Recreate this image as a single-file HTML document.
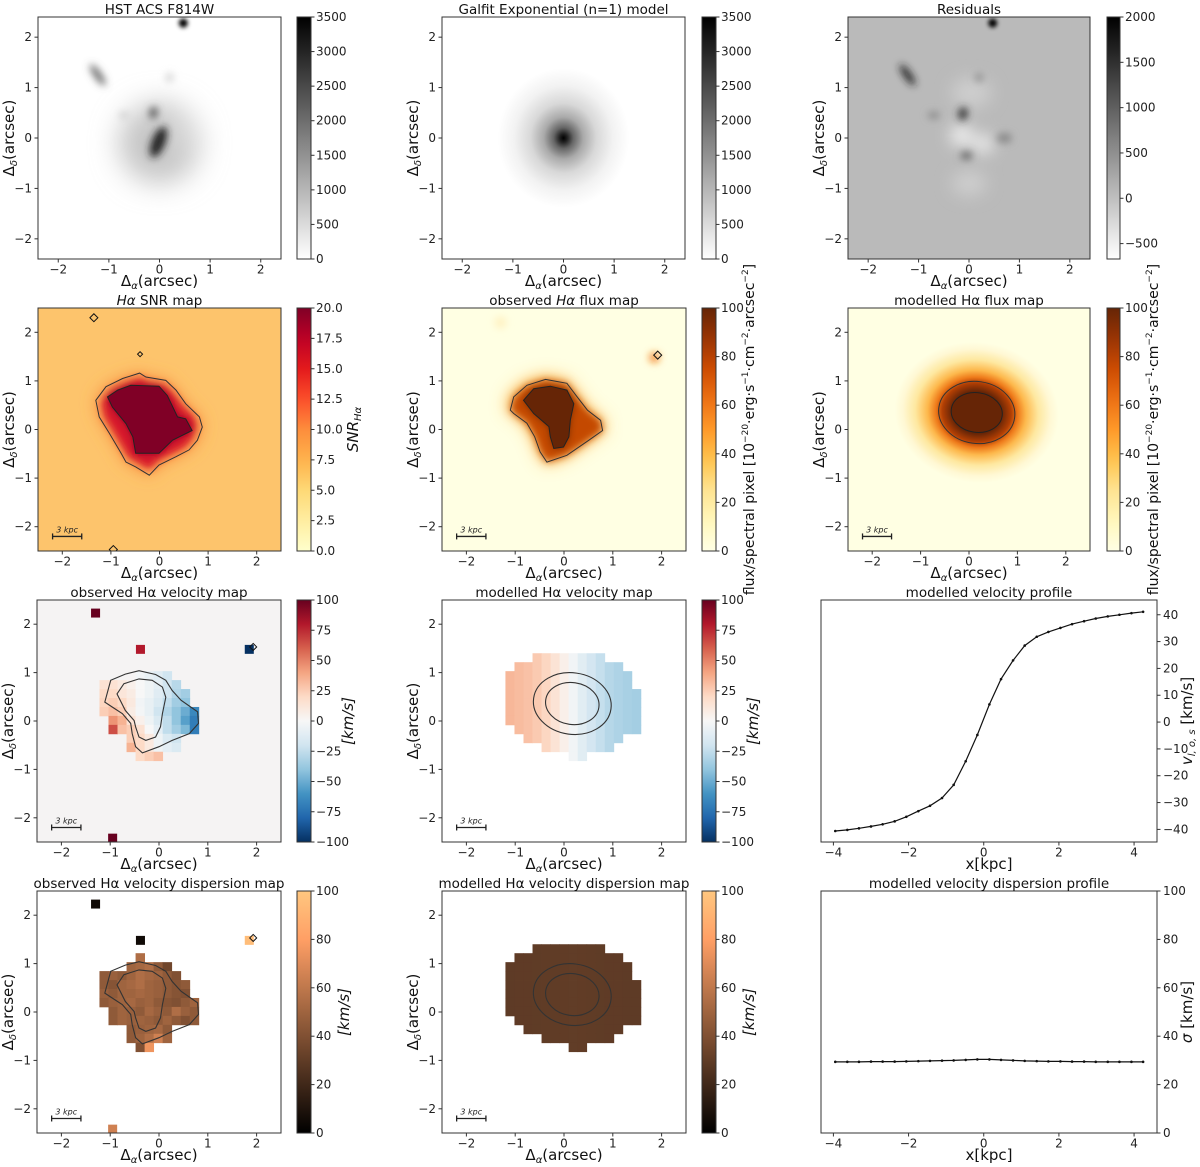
<!DOCTYPE html>
<html><head><meta charset="utf-8"><title>Halpha maps</title>
<style>
html,body{margin:0;padding:0;background:#fff;}
svg{display:block;font-family:"DejaVu Sans","Liberation Sans",sans-serif;}
</style></head>
<body>
<svg id="fig" width="1200" height="1167" viewBox="0 0 1200 1167" xmlns="http://www.w3.org/2000/svg">
<defs>
<filter id="b2" x="-50%" y="-50%" width="200%" height="200%"><feGaussianBlur stdDeviation="2"/></filter>
<filter id="b4" x="-50%" y="-50%" width="200%" height="200%"><feGaussianBlur stdDeviation="4"/></filter>
<filter id="b8" x="-50%" y="-50%" width="200%" height="200%"><feGaussianBlur stdDeviation="8"/></filter>
<filter id="b14" x="-80%" y="-80%" width="260%" height="260%"><feGaussianBlur stdDeviation="14"/></filter>
</defs>
</svg>
<script>
// ---------- chart data ----------
const profX = [-3.95,-3.63,-3.32,-3.00,-2.69,-2.37,-2.06,-1.74,-1.43,-1.11,-0.80,-0.48,-0.17,0.15,0.46,0.78,1.09,1.41,1.72,2.04,2.35,2.67,2.98,3.30,3.61,3.93,4.24];
const vProfile = [-40.6,-40.2,-39.6,-38.9,-38.1,-37.0,-35.3,-33.2,-31.2,-28.3,-23.4,-14.6,-4.8,6.6,16.0,23.0,28.5,31.8,33.6,35.1,36.5,37.6,38.6,39.4,40.0,40.6,41.1];
const sigmaProfile = [29.4,29.4,29.4,29.5,29.5,29.5,29.6,29.7,29.8,29.9,30.0,30.2,30.4,30.4,30.2,30.0,29.8,29.7,29.6,29.6,29.5,29.5,29.4,29.4,29.4,29.4,29.4];
const profXTicks = [-4,-2,0,2,4];
const vTicks = [-40,-30,-20,-10,0,10,20,30,40];
const sigmaTicks = [0,20,40,60,80,100];
const mapTicks1 = [-2,-1,0,1,2];
const n = null;
const velObs = [
[n,n,n,n,n,n,n,n,n,n,n],
[n,n,n,n,-3,-8,-12,-20,n,n,n],
[15,15,10,5,0,-5,-10,-20,-28,n,n],
[20,20,12,8,0,-5,-12,-20,-30,-35,n],
[22,25,20,10,-3,-8,-15,-25,-35,-40,n],
[25,30,25,8,-2,-8,-20,-30,-40,-50,-65],
[n,45,35,15,5,-5,-15,-25,-40,-55,-70],
[n,65,30,25,15,0,-10,-25,-35,-45,-70],
[n,n,n,25,20,10,-5,-15,-20,n,n],
[n,n,n,35,20,10,-5,-10,-15,n,n],
[n,n,n,n,20,25,30,n,n,n,n]];
const dispObs = [
[n,n,n,n,55,n,n,n,n,n,n],
[n,n,n,50,52,55,45,35,n,n,n],
[45,48,45,50,55,52,50,45,40,n,n],
[45,42,50,52,55,50,48,45,42,45,n],
[48,45,50,50,52,50,48,45,42,40,n],
[45,48,50,52,48,50,45,42,40,45,50],
[n,45,50,48,45,52,48,45,55,48,45],
[n,45,50,48,50,48,45,50,45,40,45],
[n,n,n,45,48,50,52,45,n,n,n],
[n,n,n,45,50,55,65,50,n,n,n],
[n,n,n,n,40,75,n,n,n,n,n]];
const isoX = [-1.3,-0.38,1.85,-0.95];
const isoY = [2.23,1.48,1.48,-2.42];
const isoVel = [100,80,-100,100];
const isoDisp = [5,5,95,65];
const modelRowStart = [3,1,0,0,0,0,0,0,1,2,4,7];
const modelRowEnd =   [10,12,13,13,14,14,14,14,14,12,11,8];
// contour shapes (arcsec)
const obsOuterX=[-1.11,-0.99,-0.69,-0.41,-0.07,0.14,0.27,0.45,0.65,0.79,0.81,0.62,0.27,0,-0.34,-0.48,-0.55,-0.58,-0.75,-0.96];
const obsOuterY=[0.39,0.84,0.97,1.04,0.96,0.84,0.63,0.43,0.29,0.19,-0.05,-0.26,-0.40,-0.53,-0.66,-0.53,-0.26,-0.05,0.15,0.29];
const obsInnerX=[-0.86,-0.72,-0.41,-0.14,0.07,0.14,0.07,0.03,-0.07,-0.27,-0.41,-0.48,-0.51,-0.69];
const obsInnerY=[0.56,0.77,0.87,0.84,0.70,0.49,0.15,-0.12,-0.33,-0.40,-0.33,-0.12,0.01,0.22];
const snrInX=[-1.07,-0.86,-0.59,-0.01,0.16,0.37,0.54,0.67,0.27,-0.01,-0.49,-0.55,-0.69,-0.97];
const snrInY=[0.67,0.81,0.91,0.89,0.70,0.26,0.22,-0.02,-0.22,-0.49,-0.49,-0.15,0.12,0.46];
const snrOutX=[-1.31,-1.10,-0.76,-0.41,-0.28,0.13,0.34,0.54,0.82,0.88,0.78,0.61,0.34,-0.01,-0.21,-0.49,-0.69,-0.79,-1.03,-1.24];
const snrOutY=[0.60,0.88,1.05,1.16,1.08,1.01,0.81,0.53,0.26,0.05,-0.22,-0.42,-0.56,-0.73,-0.94,-0.77,-0.67,-0.49,-0.08,0.26];
const fluxInX=[-0.83,-0.62,-0.28,0.06,0.20,0.13,0.10,-0.01,-0.21,-0.28,-0.31,-0.62];
const fluxInY=[0.60,0.84,0.89,0.81,0.53,0.19,-0.15,-0.36,-0.39,-0.15,0.06,0.33];
const fluxOutX=[-1.10,-1.03,-0.76,-0.38,0.06,0.27,0.48,0.75,0.79,0.51,0.06,-0.35,-0.49,-0.60,-0.76,-1.03];
const fluxOutY=[0.40,0.67,0.91,1.03,0.95,0.67,0.40,0.19,-0.02,-0.22,-0.53,-0.67,-0.46,-0.15,0.13,0.33];

// ---------- helpers ----------
const svg=document.getElementById('fig');
const NS='http://www.w3.org/2000/svg';
function mk(tag,attrs,name,parent){
  const e=document.createElementNS(NS,tag);
  for(const k in attrs) e.setAttribute(k,attrs[k]);
  
  
  (parent||svg).appendChild(e);
  return e;
}
function hex2(h){return [parseInt(h.substr(1,2),16),parseInt(h.substr(3,2),16),parseInt(h.substr(5,2),16)];}
function cmapF(stops){const c=stops.map(hex2);return function(t){t=Math.max(0,Math.min(1,t));const f=t*(c.length-1);const i=Math.min(c.length-2,Math.floor(f));const u=f-i;const r=c[i].map((v,k)=>Math.round(v+(c[i+1][k]-v)*u));return 'rgb('+r.join(',')+')';};}
const greys=cmapF(['#ffffff','#000000']);
const ylorrd=cmapF(['#ffffcc','#ffeda0','#fed976','#feb24c','#fd8d3c','#fc4e2a','#e31a1c','#bd0026','#800026']);
const ylorbr=cmapF(['#ffffe5','#fff7bc','#fee391','#fec44f','#fe9929','#ec7014','#cc4c02','#993404','#662506']);
const rdbu=cmapF(['#053061','#2166ac','#4393c3','#92c5de','#d1e5f0','#f7f7f7','#fddbc7','#f4a582','#d6604d','#b2182b','#67001f']);
const copper=function(t){t=Math.max(0,Math.min(1,t));return 'rgb('+Math.round(255*Math.min(1,1.25*t))+','+Math.round(255*0.7812*t)+','+Math.round(255*0.4975*t)+')';};
function minus(s){return String(s).replace('-','\u2212');}
let clipN=0;

function makePanel(o){
  const g=mk('g',{},o.name);
  const sx=x=>o.l+(x-o.x0)/(o.x1-o.x0)*o.w;
  const sy=y=>o.t+(o.y1-y)/(o.y1-o.y0)*o.h;
  const id='clip'+(clipN++);
  const cp=mk('clipPath',{id:id},'clip-region',g);
  mk('rect',{x:o.l,y:o.t,width:o.w,height:o.h},'clip-rect',cp);
  const img=mk('g',{'clip-path':'url(#'+id+')'},'image-area',g);
  mk('rect',{x:o.l,y:o.t,width:o.w,height:o.h,fill:o.bg||'#fff'},'image-background',img);
  return {g,sx,sy,img,o};
}
function drawAxes(P,opts){
  const o=P.o,g=P.g;
  mk('rect',{x:o.l,y:o.t,width:o.w,height:o.h,fill:'none',stroke:'#333','stroke-width':1},'axes-frame',g);
  const tg=mk('g',{'font-size':'12',fill:'#222'},'tick-labels',g);
  o.xt.forEach(v=>{const x=P.sx(v);
    mk('line',{x1:x,x2:x,y1:o.t+o.h,y2:o.t+o.h+3.5,stroke:'#333'},'x-tick',g);
    const t=mk('text',{x:x,y:o.t+o.h+14.5,'text-anchor':'middle'},'x-tick-label',tg);t.textContent=minus(v);});
  o.yt.forEach(v=>{const y=P.sy(v);
    if(opts&&opts.right){
      mk('line',{x1:o.l+o.w,x2:o.l+o.w+3.5,y1:y,y2:y,stroke:'#333'},'y-tick',g);
      const t=mk('text',{x:o.l+o.w+6,y:y+4,'text-anchor':'start'},'y-tick-label',tg);t.textContent=minus(v);
    }else{
      mk('line',{x1:o.l,x2:o.l-3.5,y1:y,y2:y,stroke:'#333'},'y-tick',g);
      const t=mk('text',{x:o.l-6,y:y+4,'text-anchor':'end'},'y-tick-label',tg);t.textContent=minus(v);
    }});
  const tt=mk('text',{x:o.l+o.w/2,y:o.t-3,'text-anchor':'middle','font-size':'13.5',fill:'#111'},'panel-title',g);
  tt.innerHTML=o.title;
  const xl=mk('text',{x:o.l+o.w/2,y:o.t+o.h+27,'text-anchor':'middle','font-size':'15',fill:'#111'},'x-axis-title',g);
  xl.innerHTML=o.xlabel||'Δ<tspan font-size="10" font-style="italic" dy="3">α</tspan><tspan dy="-3">(arcsec)</tspan>';
  if(!(opts&&opts.right)){
    const yl=mk('text',{x:0,y:0,'text-anchor':'middle','font-size':'15',fill:'#111',transform:'translate('+(o.l-24)+','+(o.t+o.h/2)+') rotate(-90)'},'y-axis-title',g);
    yl.innerHTML='Δ<tspan font-size="10" font-style="italic" dy="3">δ</tspan><tspan dy="-3">(arcsec)</tspan>';
  }
}
function colorbar(P,cb){
  const g=mk('g',{},'colorbar',P.g);
  const id='grad'+(clipN++);
  const lg=mk('linearGradient',{id:id,x1:0,y1:1,x2:0,y2:0},'colorbar-gradient',g);
  for(let i=0;i<=20;i++){mk('stop',{offset:(i/20),'stop-color':cb.cm(i/20)},'gradient-stop',lg);}
  const t=P.o.t,h=P.o.h;
  mk('rect',{x:cb.x,y:t,width:cb.w,height:h,fill:'url(#'+id+')',stroke:'#333','stroke-width':1},'colorbar-bar',g);
  cb.ticks.forEach(v=>{const y=t+h-(v-cb.min)/(cb.max-cb.min)*h;
    mk('line',{x1:cb.x+cb.w,x2:cb.x+cb.w+3.5,y1:y,y2:y,stroke:'#333'},'colorbar-tick',g);
    const tx=mk('text',{x:cb.x+cb.w+5,y:y+4,'font-size':'12',fill:'#222'},'colorbar-tick-label',g);
    tx.textContent=minus(cb.fmt?cb.fmt(v):v);});
  if(cb.label){
    const lx=cb.x+cb.w+cb.lo;
    const l=mk('text',{x:0,y:0,'text-anchor':'middle','font-size':cb.fs||'15',fill:'#111',transform:'translate('+lx+','+(t+h/2)+') rotate(-90)'},'colorbar-label',g);
    l.innerHTML=cb.label;
  }
}
function poly(P,xs,ys,attrs,name,parent){
  const pts=xs.map((x,i)=>P.sx(x).toFixed(1)+','+P.sy(ys[i]).toFixed(1)).join(' ');
  return mk('polygon',Object.assign({points:pts},attrs),name,parent||P.img);
}
function ell(P,cx,cy,rx,ry,rot,attrs,name,parent){
  const s=P.o.w/(P.o.x1-P.o.x0);
  return mk('ellipse',Object.assign({cx:P.sx(cx),cy:P.sy(cy),rx:rx*s,ry:ry*s,transform:'rotate('+rot+' '+P.sx(cx)+' '+P.sy(cy)+')'},attrs),name,parent||P.img);
}
function scalebar(P){
  const y=P.sy(-2.2),x1=P.sx(-2.2),x2=P.sx(-1.6);
  const g=mk('g',{stroke:'#222','stroke-width':1.3},'scale-bar',P.img);
  mk('line',{x1:x1,x2:x2,y1:y,y2:y},'scale-bar-line',g);
  mk('line',{x1:x1,x2:x1,y1:y-3,y2:y+3},'scale-bar-cap',g);
  mk('line',{x1:x2,x2:x2,y1:y-3,y2:y+3},'scale-bar-cap',g);
  const t=mk('text',{x:(x1+x2)/2,y:y-4,'text-anchor':'middle','font-size':'8','font-style':'italic',fill:'#222'},'scale-bar-label',P.img);
  t.textContent='3 kpc';
}
function diamond(P,x,y,r,name){
  const cx=P.sx(x),cy=P.sy(y);
  mk('polygon',{points:(cx)+','+(cy-r)+' '+(cx+r)+','+cy+' '+cx+','+(cy+r)+' '+(cx-r)+','+cy,fill:'none',stroke:'#111','stroke-width':1},name||'diamond-marker',P.img);
}
function gridCells(P,grid,x0,y0,cs,cm,min,max,name){
  const g=mk('g',{},name,P.img);
  grid.forEach((row,j)=>row.forEach((v,i)=>{ if(v===null) return;
    const x=P.sx(x0+i*cs),y=P.sy(y0-j*cs);
    mk('rect',{x:x,y:y,width:P.sx(x0+(i+1)*cs)-x+0.4,height:P.sy(y0-(j+1)*cs)-y+0.4,fill:cm((v-min)/(max-min))},'pixel',g);}));
}
function isoCells(P,vals,cs,cm,min,max){
  vals.forEach((v,k)=>{const x=P.sx(isoX[k]-cs/2),y=P.sy(isoY[k]+cs/2);
    mk('rect',{x:x,y:y,width:P.sx(isoX[k]+cs/2)-x,height:P.sy(isoY[k]-cs/2)-y,fill:cm((v-min)/(max-min))},'isolated-pixel',P.img);});
}
function contourLines(P,ox,oy,ix,iy){
  poly(P,ox,oy,{fill:'none',stroke:'#333','stroke-width':1.1},'contour-outer');
  poly(P,ix,iy,{fill:'none',stroke:'#333','stroke-width':1.1},'contour-inner');
}
function modelContours(P){
  ell(P,0.17,0.36,0.8,0.63,8,{fill:'none',stroke:'#333','stroke-width':1.1},'contour-outer');
  ell(P,0.17,0.36,0.55,0.43,8,{fill:'none',stroke:'#333','stroke-width':1.1},'contour-inner');
}
function interp(xs,ys,x){ if(x<=xs[0]) return ys[0]; if(x>=xs[xs.length-1]) return ys[ys.length-1];
  for(let i=0;i<xs.length-1;i++){ if(x<=xs[i+1]){const u=(x-xs[i])/(xs[i+1]-xs[i]);return ys[i]+u*(ys[i+1]-ys[i]);}} }

const map24={x0:-2.4,x1:2.4,y0:-2.4,y1:2.4,xt:mapTicks1,yt:mapTicks1};
const map25={x0:-2.5,x1:2.5,y0:-2.5,y1:2.5,xt:mapTicks1,yt:mapTicks1};

// ---------- Row 1 ----------
(function(){
  const P=makePanel(Object.assign({name:'hst-panel',l:38,t:17,w:243,h:242,title:'HST ACS F814W'},map24));
  const b=mk('g',{filter:'url(#b14)'},'galaxy-halo',P.img);
  ell(P,0,-0.1,0.8,0.8,0,{fill:'#c4c4c4'},'halo',b);
  ell(P,0.35,0.05,0.3,0.25,0,{fill:'#dcdcdc'},'halo-ext',b);
  const c=mk('g',{filter:'url(#b4)'},'galaxy-core',P.img);
  ell(P,-0.02,-0.08,0.13,0.32,22,{fill:'#202020'},'core',c);
  ell(P,-0.12,0.5,0.08,0.12,10,{fill:'#555'},'knot',c);
  ell(P,-1.22,1.25,0.07,0.25,-35,{fill:'#666'},'streak',c);
  ell(P,0.2,1.2,0.08,0.08,0,{fill:'#ccc'},'faint-blob',c);
  ell(P,-0.7,0.45,0.1,0.06,0,{fill:'#ccc'},'faint-blob',c);
  const s=mk('g',{filter:'url(#b2)'},'star',P.img);
  ell(P,0.47,2.28,0.09,0.09,0,{fill:'#000'},'star-core',s);
  drawAxes(P);
  colorbar(P,{x:297,w:14,cm:greys,min:0,max:3500,ticks:[0,500,1000,1500,2000,2500,3000,3500]});
})();
(function(){
  const P=makePanel(Object.assign({name:'galfit-panel',l:442,t:17,w:243,h:242,title:'Galfit Exponential (n=1) model'},map24));
  const rg=mk('radialGradient',{id:'galfitGrad'},'galfit-gradient',P.g);
  [[0,'#000'],[0.06,'#222'],[0.15,'#666'],[0.3,'#aaa'],[0.5,'#d8d8d8'],[0.75,'#f2f2f2'],[1,'#fff']].forEach(s=>mk('stop',{offset:s[0],'stop-color':s[1]},'gradient-stop',rg));
  ell(P,0,0,1.3,1.38,0,{fill:'url(#galfitGrad)'},'galfit-model');
  drawAxes(P);
  colorbar(P,{x:702,w:14,cm:greys,min:0,max:3500,ticks:[0,500,1000,1500,2000,2500,3000,3500]});
})();
(function(){
  const P=makePanel(Object.assign({name:'residuals-panel',l:848,t:17,w:242,h:242,title:'Residuals',bg:'#bababa'},map24));
  const w=mk('g',{filter:'url(#b8)'},'residual-light',P.img);
  ell(P,-0.15,0.05,0.22,0.2,0,{fill:'#f4f4f4'},'negative-residual',w);
  ell(P,0.28,-0.12,0.2,0.18,0,{fill:'#f0f0f0'},'negative-residual',w);
  ell(P,0.05,0.9,0.4,0.3,0,{fill:'#cdcdcd'},'negative-residual',w);
  ell(P,0,-0.9,0.35,0.25,0,{fill:'#cdcdcd'},'negative-residual',w);
  const c=mk('g',{filter:'url(#b4)'},'residual-dark',P.img);
  ell(P,-0.12,0.48,0.09,0.13,10,{fill:'#333'},'knot',c);
  ell(P,-0.05,-0.35,0.12,0.08,0,{fill:'#666'},'knot',c);
  ell(P,0.7,0,0.15,0.1,0,{fill:'#888'},'knot',c);
  ell(P,-0.7,0.45,0.12,0.07,0,{fill:'#888'},'knot',c);
  ell(P,-1.22,1.25,0.07,0.25,-35,{fill:'#222'},'streak',c);
  ell(P,0.2,1.2,0.08,0.08,0,{fill:'#888'},'faint-blob',c);
  const s=mk('g',{filter:'url(#b2)'},'star',P.img);
  ell(P,0.47,2.28,0.09,0.09,0,{fill:'#000'},'star-core',s);
  drawAxes(P);
  colorbar(P,{x:1107,w:13,cm:greys,min:-670,max:2000,ticks:[-500,0,500,1000,1500,2000]});
})();

// ---------- Row 2 ----------
(function(){
  const P=makePanel(Object.assign({name:'snr-panel',l:38,t:308,w:243,h:243,title:'<tspan font-style="italic">Hα</tspan> SNR map',bg:'#fdc46c'},map25));
  const b=mk('g',{filter:'url(#b8)'},'snr-halo',P.img);
  poly(P,snrOutX,snrOutY,{fill:'#f98c3e'},'snr-mid',b);
  const c=mk('g',{filter:'url(#b4)'},'snr-core',P.img);
  poly(P,snrOutX.map(v=>v*0.9-0.02),snrOutY.map(v=>v*0.9+0.02),{fill:'#d7182a'},'snr-high',c);
  poly(P,snrInX,snrInY,{fill:'#800026'},'snr-peak',c);
  poly(P,snrInX,snrInY,{fill:'#800026'},'snr-peak-fill');
  poly(P,snrOutX,snrOutY,{fill:'none',stroke:'#333','stroke-width':1},'contour-10');
  poly(P,snrInX,snrInY,{fill:'none',stroke:'#222','stroke-width':1},'contour-20');
  diamond(P,-1.35,2.3,4);diamond(P,-0.4,1.55,2.5);diamond(P,-0.95,-2.47,4);
  scalebar(P);
  drawAxes(P);
  colorbar(P,{x:297,w:14,cm:ylorrd,min:0,max:20,ticks:[0,2.5,5,7.5,10,12.5,15,17.5,20],fmt:v=>v.toFixed(1),lo:47,label:'<tspan font-style="italic">SNR</tspan><tspan font-size="10" font-style="italic" dy="3">Hα</tspan>'});
})();
const fluxLabel='flux/spectral pixel [10<tspan font-size="9" dy="-6">−20</tspan><tspan dy="6">·erg·s</tspan><tspan font-size="9" dy="-6">−1</tspan><tspan dy="6">·cm</tspan><tspan font-size="9" dy="-6">−2</tspan><tspan dy="6">·arcsec</tspan><tspan font-size="9" dy="-6">−2</tspan><tspan dy="6">]</tspan>';
(function(){
  const P=makePanel(Object.assign({name:'observed-flux-panel',l:442,t:308,w:244,h:243,title:'observed <tspan font-style="italic">Hα</tspan> flux map',bg:'#ffffe3'},map25));
  const b=mk('g',{filter:'url(#b8)'},'flux-halo',P.img);
  poly(P,fluxOutX.map(v=>v*1.08),fluxOutY.map(v=>v*1.08),{fill:'#fdb64a'},'flux-low',b);
  const c=mk('g',{filter:'url(#b4)'},'flux-core',P.img);
  poly(P,fluxOutX,fluxOutY,{fill:'#c44a06'},'flux-mid',c);
  poly(P,fluxInX,fluxInY,{fill:'#662506'},'flux-high',c);
  poly(P,fluxInX,fluxInY,{fill:'#662506'},'flux-high-fill');
  const s=mk('g',{filter:'url(#b4)'},'flux-spots',P.img);
  ell(P,1.85,1.48,0.1,0.1,0,{fill:'#f47a18'},'spot',s);
  ell(P,-1.3,2.2,0.12,0.12,0,{fill:'#fff1c0'},'spot',s);
  poly(P,fluxOutX,fluxOutY,{fill:'none',stroke:'#333','stroke-width':1},'contour-50');
  poly(P,fluxInX,fluxInY,{fill:'none',stroke:'#222','stroke-width':1},'contour-100');
  diamond(P,1.92,1.53,4);
  scalebar(P);
  drawAxes(P);
  colorbar(P,{x:702,w:14,cm:ylorbr,min:0,max:100,ticks:[0,20,40,60,80,100],lo:38,fs:'14',label:fluxLabel});
})();
(function(){
  const P=makePanel(Object.assign({name:'modelled-flux-panel',l:848,t:308,w:242,h:243,title:'modelled Hα flux map',bg:'#ffffe3'},map25));
  const rg=mk('radialGradient',{id:'fluxGrad'},'flux-gradient',P.g);
  [[0,'#662506'],[0.3,'#662506'],[0.42,'#b23f04'],[0.5,'#ee7a1a'],[0.6,'#fdb84c'],[0.75,'#fee8a0'],[0.9,'#fff8d4'],[1,'#ffffe3']].forEach(s=>mk('stop',{offset:s[0],'stop-color':s[1]},'gradient-stop',rg));
  ell(P,0.16,0.35,1.7,1.45,8,{fill:'url(#fluxGrad)'},'flux-model');
  ell(P,0.16,0.35,0.53,0.41,8,{fill:'#662506'},'flux-model-core');
  ell(P,0.16,0.35,0.79,0.64,8,{fill:'none',stroke:'#333','stroke-width':1},'contour-50');
  ell(P,0.16,0.35,0.53,0.41,8,{fill:'none',stroke:'#222','stroke-width':1},'contour-100');
  scalebar(P);
  drawAxes(P);
  colorbar(P,{x:1107,w:13,cm:ylorbr,min:0,max:100,ticks:[0,20,40,60,80,100],lo:38,fs:'14',label:fluxLabel});
})();

// ---------- Row 3 ----------
const cs=0.185;
(function(){
  const P=makePanel(Object.assign({name:'observed-velocity-panel',l:37,t:600,w:244,h:242,title:'observed Hα velocity map',bg:'#f5f3f3'},map25));
  gridCells(P,velObs,-1.22,1.215,cs,rdbu,-100,100,'velocity-pixels');
  isoCells(P,isoVel,cs,rdbu,-100,100);
  contourLines(P,obsOuterX,obsOuterY,obsInnerX,obsInnerY);
  diamond(P,1.93,1.53,3.5);
  scalebar(P);
  drawAxes(P);
  colorbar(P,{x:297,w:14,cm:rdbu,min:-100,max:100,ticks:[-100,-75,-50,-25,0,25,50,75,100],lo:42,label:'<tspan font-style="italic">[km/s]</tspan>'});
})();
(function(){
  const P=makePanel(Object.assign({name:'modelled-velocity-panel',l:442,t:600,w:244,h:242,title:'modelled  Hα velocity map'},map25));
  const g=mk('g',{},'model-velocity-pixels',P.img);
  modelRowStart.forEach((s,j)=>{for(let i=s;i<=modelRowEnd[j];i++){
    const xc=-1.2+(i+0.5)*cs;
    const v=-1.0*interp(profX,vProfile,(xc-0.15)*1.4);
    const x=P.sx(-1.2+i*cs),y=P.sy(1.4-j*cs);
    mk('rect',{x:x,y:y,width:P.sx(-1.2+(i+1)*cs)-x+0.4,height:P.sy(1.4-(j+1)*cs)-y+0.4,fill:rdbu((v+100)/200)},'pixel',g);}});
  modelContours(P);
  scalebar(P);
  drawAxes(P);
  colorbar(P,{x:702,w:14,cm:rdbu,min:-100,max:100,ticks:[-100,-75,-50,-25,0,25,50,75,100],lo:42,label:'<tspan font-style="italic">[km/s]</tspan>'});
})();
function profilePanel(o,ys,yt,ylabel){
  const P=makePanel(o);
  const pts=profX.map((x,i)=>P.sx(x).toFixed(1)+','+P.sy(ys[i]).toFixed(1)).join(' ');
  mk('polyline',{points:pts,fill:'none',stroke:'#111','stroke-width':1.2},'profile-line',P.img);
  profX.forEach((x,i)=>{mk('circle',{cx:P.sx(x),cy:P.sy(ys[i]),r:1.3,fill:'#111'},'profile-point',P.img);});
  drawAxes(P,{right:true});
  const l=mk('text',{x:0,y:0,'text-anchor':'middle','font-size':'15',fill:'#111',transform:'translate(1192,'+(o.t+o.h/2)+') rotate(-90)'},'y-axis-title',P.g);
  l.innerHTML=ylabel;
}
profilePanel({name:'velocity-profile-panel',l:821,t:600,w:336,h:242,x0:-4.33,x1:4.61,y0:-44.7,y1:45.5,xt:profXTicks,yt:vTicks,title:'modelled  velocity profile',xlabel:'x[kpc]'},vProfile,vTicks,'<tspan font-style="italic">v</tspan><tspan font-size="10" font-style="italic" dy="3">l, o, s</tspan><tspan dy="-3"> [km/s]</tspan>');

// ---------- Row 4 ----------
(function(){
  const P=makePanel(Object.assign({name:'observed-dispersion-panel',l:37,t:891,w:244,h:242,title:'observed Hα velocity dispersion map'},map25));
  gridCells(P,dispObs,-1.22,1.215,cs,copper,0,100,'dispersion-pixels');
  isoCells(P,isoDisp,cs,copper,0,100);
  contourLines(P,obsOuterX,obsOuterY,obsInnerX,obsInnerY);
  diamond(P,1.93,1.53,3.5);
  scalebar(P);
  drawAxes(P);
  colorbar(P,{x:297,w:14,cm:copper,min:0,max:100,ticks:[0,20,40,60,80,100],lo:38,label:'<tspan font-style="italic">[km/s]</tspan>'});
})();
(function(){
  const P=makePanel(Object.assign({name:'modelled-dispersion-panel',l:442,t:891,w:244,h:242,title:'modelled  Hα velocity dispersion map'},map25));
  const g=mk('g',{},'model-dispersion-pixels',P.img);
  modelRowStart.forEach((s,j)=>{for(let i=s;i<=modelRowEnd[j];i++){
    const xc=-1.2+(i+0.5)*cs;
    const v=interp(profX,sigmaProfile,(xc-0.17)*1.5);
    const x=P.sx(-1.2+i*cs),y=P.sy(1.4-j*cs);
    mk('rect',{x:x,y:y,width:P.sx(-1.2+(i+1)*cs)-x+0.4,height:P.sy(1.4-(j+1)*cs)-y+0.4,fill:copper(v/100)},'pixel',g);}});
  modelContours(P);
  scalebar(P);
  drawAxes(P);
  colorbar(P,{x:702,w:14,cm:copper,min:0,max:100,ticks:[0,20,40,60,80,100],lo:38,label:'<tspan font-style="italic">[km/s]</tspan>'});
})();
profilePanel({name:'dispersion-profile-panel',l:821,t:891,w:336,h:242,x0:-4.33,x1:4.61,y0:0,y1:100,xt:profXTicks,yt:sigmaTicks,title:'modelled velocity dispersion profile',xlabel:'x[kpc]'},sigmaProfile,sigmaTicks,'<tspan font-style="italic">σ</tspan> [km/s]');
</script>
</body></html>
